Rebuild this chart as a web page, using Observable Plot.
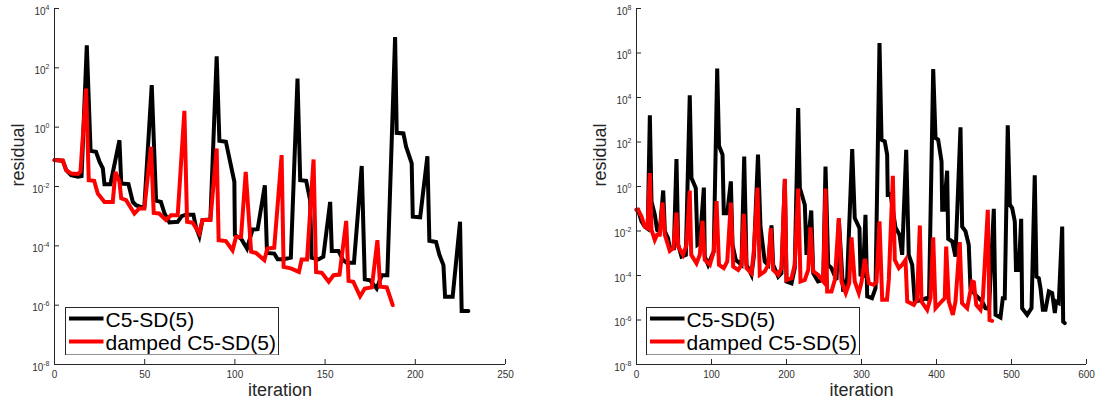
<!DOCTYPE html>
<html><head><meta charset="utf-8">
<script src="https://cdn.jsdelivr.net/npm/d3@7"></script>
<script src="https://cdn.jsdelivr.net/npm/@observablehq/plot@0.6"></script>
<style>
body{margin:0;background:#fff;font-family:"Liberation Sans",Arial,sans-serif;}
#wrap{position:relative;width:1097px;height:401px;overflow:hidden;background:#fff;}
#wrap svg{position:absolute;top:0;}
</style></head><body><div id="wrap"></div>
<script>
// [iteration, log10(residual)]
const leftC5 = [[0,-1.11],[4.6,-1.13],[6.5,-1.45],[9.2,-1.62],[13,-1.67],[15,-1.65],[17.9,2.76],[20,-0.80],[23,-0.83],[25,-1.17],[26.8,-1.39],[27.7,-1.92],[31,-1.92],[36,-0.44],[37,-1.90],[41,-1.92],[43.4,-2.52],[45.2,-2.63],[47.6,-2.69],[49.8,-2.69],[53.9,1.42],[56.3,-2.48],[59,-2.52],[61,-2.91],[63.7,-3.21],[68.3,-3.19],[70.5,-3.0],[72.9,-2.95],[77,-2.95],[78.4,-3.36],[80.3,-3.67],[82,-3.13],[86.4,-3.11],[89.9,2.39],[91.4,-0.46],[95,-0.49],[99.7,-1.84],[100,-3.64],[103.4,-3.75],[106.7,-4.09],[109.8,-3.45],[112.6,-3.44],[116.6,-1.96],[117.8,-4.24],[121.8,-4.26],[123.7,-4.45],[127,-4.45],[131,-4.4],[134.7,1.64],[136.2,-1.79],[139.5,-1.81],[141.7,-2.46],[142.5,-4.4],[146.3,-4.46],[149,-4.37],[152.8,-2.52],[153.7,-4.17],[157.4,-4.17],[160,-4.48],[162,-4.57],[166,-4.57],[170.3,-1.31],[172,-5.13],[174.9,-5.16],[178.6,-5.44],[181.4,-4.99],[184.5,-4.99],[188.8,3.04],[189.7,-0.19],[193.4,-0.21],[194.9,-0.66],[198,-1.22],[198.6,-3.02],[202.7,-3.04],[206.7,-0.98],[207.8,-3.83],[211.5,-3.87],[213.4,-4.31],[215.6,-4.65],[216.5,-5.72],[220.7,-5.72],[224.8,-3.19],[225.7,-6.20],[229.4,-6.20]];
const leftDamped = [[0,-1.11],[4.6,-1.13],[6.5,-1.45],[9.2,-1.56],[13,-1.58],[14.4,-1.5],[17.5,1.30],[19,-1.79],[22,-1.81],[24,-2.24],[27.7,-2.52],[32.3,-2.52],[33.8,-1.51],[36,-1.84],[37,-2.40],[39.7,-2.46],[44.3,-2.91],[47,-2.74],[49.8,-2.74],[53.5,-0.66],[55,-2.89],[58,-2.91],[61.8,-3.13],[64.6,-2.97],[68.3,-2.97],[72,0.55],[73.5,-3.19],[76.6,-3.22],[80.3,-3.58],[82,-3.13],[86.4,-3.13],[89.9,-0.72],[91,-3.81],[95,-3.84],[98.7,-4.15],[100.6,-3.70],[103.4,-3.70],[106,-1.51],[109,-4.20],[111.7,-4.24],[116.3,-4.48],[118,-4.09],[121.8,-4.06],[125.9,-0.94],[127,-4.71],[131,-4.76],[135.5,-4.88],[137,-4.46],[140,-4.46],[143.6,-1.09],[145,-4.88],[148.2,-4.91],[152,-5.21],[154.7,-4.99],[158,-4.97],[161.7,-3.16],[163,-5.18],[165.6,-5.21],[169.4,-5.70],[172,-5.44],[175.9,-5.40],[179,-3.81],[180.5,-5.38],[184.2,-5.40],[187.5,-6.0]];
const rightC5 = [[0,-1.05],[2,-1.05],[6.7,-1.57],[11,-1.8],[15,-1.9],[17.8,3.20],[20,-0.67],[24.4,-1.27],[27.5,-1.95],[31,-2.02],[35.6,-0.18],[37.8,-2.02],[42,-2.32],[44.4,-2.77],[49.8,-2.77],[53.3,1.23],[55.6,-2.62],[60,-3.15],[65.8,-3.07],[71,4.10],[73.3,0.38],[79,-0.07],[81.3,-2.62],[84.4,-2.55],[89.8,-0.05],[91,-3.15],[95.5,-3.52],[103,-2.92],[107.6,5.30],[110,1.83],[114.7,1.43],[116.4,-1.2],[121,-1.2],[125.8,0.23],[128,-2.62],[132.4,-3.3],[140,-3.52],[143.6,1.35],[146.7,-3.52],[153.3,-3.97],[156.4,-3.15],[162,1.43],[165.3,-1.8],[171,-3.37],[175.6,-3.52],[180,-1.75],[182.2,-3.52],[189,-4.05],[193.3,-3.9],[197.8,0.3],[200,-4.27],[206.7,-4.35],[211,-3.67],[215.6,3.53],[217.8,-0.07],[224.4,-0.82],[226.7,-3.07],[233,-1.08],[235.6,-3.9],[242,-4.27],[249,-4.2],[252,0.90],[255.6,-3.52],[260,-3.67],[266.7,-4.2],[269.8,-1.5],[275.6,-4.72],[280.9,-4.12],[287.6,1.68],[291,-1.42],[297.3,-1.87],[298.7,-3.97],[302,-4.0],[305.3,-1.27],[307.6,-4.94],[314,-5.02],[318.7,-4.57],[324,6.45],[326.7,2.10],[331,2.03],[334.2,1.43],[335,-0.37],[338.7,-0.34],[345.3,-1.84],[350.7,-2.17],[354.2,-3.07],[359.6,1.65],[363,-3.07],[367.6,-3.52],[371,-5.17],[380.9,-5.09],[386,-5.02],[390,-5.1],[395.6,5.28],[398.7,2.18],[402.2,2.10],[406.7,1.13],[407.6,-1.05],[409.8,-1.05],[414.2,0.71],[415.6,-2.35],[421,-2.47],[425.3,-3.15],[432,2.66],[434.2,-1.8],[438.7,-2.02],[443,-2.62],[445.3,-4.57],[452,-4.87],[460.9,-5.17],[465.3,-5.47],[470,-5.5],[476.4,-1.0],[478.7,-5.77],[485.3,-5.89],[488.4,-5.02],[491,-5.02],[495,2.75],[497.8,-0.82],[500.9,-0.97],[504.4,-1.57],[506,-3.75],[509.8,-3.75],[512.9,-1.45],[514.2,-5.47],[520.9,-5.77],[526.7,-5.47],[531,0.50],[533.3,-4.05],[536.4,-4.12],[538.7,-4.57],[541.8,-5.54],[545.3,-5.54],[549.8,-4.72],[554.2,-4.79],[557.8,-5.69],[559.6,-5.17],[563,-5.24],[567.6,-1.8],[568.9,-6.07],[571,-6.14]];
const rightDamped = [[0,-1.05],[2,-1.05],[6.7,-1.35],[11,-1.8],[14.7,-1.87],[17.8,0.60],[20,-1.95],[24.4,-2.4],[27.5,-2.17],[31,-2.17],[34.7,-0.72],[37.8,-2.17],[44.4,-2.89],[49,-2.77],[53.3,-1.17],[55.6,-2.7],[62,-3.07],[66.7,-2.62],[71,-0.18],[73,-3.07],[80,-3.45],[84.4,-3.07],[88,-1.54],[91,-3.3],[97.8,-3.52],[103,-2.92],[106.7,-0.66],[110,-3.52],[116.4,-3.67],[121,-3.37],[125.8,-0.72],[129,-3.6],[135.6,-3.75],[140,-3.52],[143,-1.23],[146.7,-3.67],[153.3,-3.9],[156.4,-2.92],[161.3,-0.05],[164.4,-3.97],[171,-3.82],[175.6,-3.52],[179,-1.87],[182.2,-3.75],[189,-3.97],[193.3,-3.67],[197.8,0.35],[200,-4.2],[206.7,-4.12],[211,-3.52],[215.6,-0.09],[218.7,-4.27],[224.4,-4.2],[229,-3.75],[232,-1.84],[235.6,-3.82],[242,-3.97],[249,-4.27],[252,-0.09],[254.2,-4.72],[260,-4.72],[264.4,-4.2],[269.8,-1.42],[273.3,-4.27],[279,-4.79],[283.6,-4.35],[286.7,-2.29],[291,-4.27],[296.4,-4.79],[300,-4.3],[304.4,-3.25],[309.8,-4.35],[316.4,-4.42],[320,-4.3],[324,-1.57],[327.6,-5.09],[334,-5.09],[336.4,-4.2],[341.8,0.48],[344.4,-3.3],[349.8,-3.67],[354.2,-3.52],[358.7,-3.30],[361,-5.17],[369.8,-5.32],[374,-5.09],[377.8,-1.75],[380,-5.17],[387.6,-5.54],[392,-5.02],[395.6,-2.28],[398.7,-5.47],[406.7,-5.17],[411,-5.02],[412.9,-2.70],[416.4,-5.17],[421.8,-5.77],[425.3,-5.17],[431,-2.5],[434,-5.24],[440.9,-5.47],[447.6,-4.27],[449.8,-4.3],[453,-5.32],[458.7,-5.54],[461.8,-5.02],[468.4,-1.05],[470.7,-6.0],[474.2,-6.04]];

const leftXTicks = [0, 50, 100, 150, 200, 250];
const leftYTicks = [1e-8, 1e-6, 1e-4, 1e-2, 1e0, 1e2, 1e4];
const rightXTicks = [0, 100, 200, 300, 400, 500, 600];
const rightYTicks = [1e-8, 1e-6, 1e-4, 1e-2, 1e0, 1e2, 1e4, 1e6, 1e8];
const seriesNames = ["C5-SD(5)", "damped C5-SD(5)"];
const seriesColors = ["#000000", "#ff0000"];
const xLabel = "iteration";
const yLabel = "residual";

const FONT = "'Liberation Sans', Arial, Helvetica, sans-serif";
const axisColor = "#262626";
const wrap = document.getElementById("wrap");

function toRows(pairs) { return pairs.map(([it, e]) => ({iteration: it, residual: 10 ** e})); }

function panel({c5, damped, xDomain, xTicks, yDomain, yTicks, left, width, marginLeft, marginRight}) {
  const svg = Plot.plot({
    width, height: 401, marginLeft, marginRight, marginTop: 8, marginBottom: 37,
    style: {fontFamily: FONT, background: "transparent", overflow: "visible"},
    x: {domain: xDomain, ticks: xTicks, label: null},
    y: {type: "log", domain: yDomain, ticks: yTicks, label: null},
    marks: [
      Plot.line(toRows(c5), {x: "iteration", y: "residual", stroke: seriesColors[0], strokeWidth: 4, strokeLinejoin: "miter", strokeMiterlimit: 4}),
      Plot.line(toRows(damped), {x: "iteration", y: "residual", stroke: seriesColors[1], strokeWidth: 4, strokeLinejoin: "miter", strokeMiterlimit: 4}),
      Plot.ruleX([xDomain[0]], {stroke: axisColor, strokeWidth: 1}),
      Plot.ruleY([yDomain[0]], {stroke: axisColor, strokeWidth: 1}),
      Plot.axisX(xTicks, {tickSize: -5, fill: "none", stroke: axisColor, label: null}),
      Plot.axisX(xTicks, {tickSize: 0, tickPadding: 6, fontSize: 10, fill: "#333", label: null}),
      Plot.axisY(yTicks, {tickSize: -5, fill: "none", stroke: axisColor, label: null}),
      Plot.axisY(yTicks, {tickSize: 0, tickPadding: 5, fontSize: 10, fill: "#333", label: null,
        tickFormat: d => "10^" + Math.round(Math.log10(d))}),
      Plot.text([xLabel], {text: d => d, frameAnchor: "bottom", dy: 31, lineAnchor: "bottom", fontSize: 18, fill: "#262626"}),
      Plot.text([yLabel], {text: d => d, frameAnchor: "left", dx: -31, rotate: -90, lineAnchor: "bottom", fontSize: 18, fill: "#262626"})
    ]
  });
  svg.style.left = left + "px";
  // superscript exponents on the y tick labels
  svg.querySelectorAll('g[aria-label="y-axis tick label"] text').forEach(t => {
    const m = /^10\^(-?\d+)$/.exec(t.textContent.trim());
    if (!m) return;
    t.textContent = "";
    t.setAttribute("y", "6");
    const base = document.createElementNS("http://www.w3.org/2000/svg", "tspan");
    base.textContent = "10";
    const exp = document.createElementNS("http://www.w3.org/2000/svg", "tspan");
    exp.textContent = m[1];
    exp.setAttribute("dy", "-5");
    exp.setAttribute("font-size", "7");
    t.appendChild(base); t.appendChild(exp);
  });
  wrap.appendChild(svg);
}

function legend(left, top, width, height) {
  const svg = d3.create("svg").attr("width", width + 1).attr("height", height + 1)
    .style("left", left + "px").style("top", top + "px").style("font-family", FONT);
  svg.append("rect").attr("x", 0.5).attr("y", 0.5).attr("width", width).attr("height", height)
    .attr("fill", "white").attr("stroke", axisColor).attr("stroke-width", 1);
  const lineY = [11.5, 34.5], textY = [19.8, 42.5];
  seriesNames.forEach((name, i) => {
    svg.append("line").attr("x1", 4).attr("x2", 38.5).attr("y1", lineY[i]).attr("y2", lineY[i])
      .attr("stroke", seriesColors[i]).attr("stroke-width", 4);
    svg.append("text").attr("x", 40.5).attr("y", textY[i]).attr("font-size", 21).attr("fill", "#000").text(name);
  });
  wrap.appendChild(svg.node());
}

panel({c5: leftC5, damped: leftDamped, xDomain: [0, 250], xTicks: leftXTicks, yDomain: [1e-8, 1e4], yTicks: leftYTicks,
  left: 0, width: 560, marginLeft: 54, marginRight: 55});
panel({c5: rightC5, damped: rightDamped, xDomain: [0, 600], xTicks: rightXTicks, yDomain: [1e-8, 1e8], yTicks: rightYTicks,
  left: 560, width: 537, marginLeft: 76, marginRight: 11});
legend(64.5, 306.5, 213, 47.5);
legend(646, 306.5, 213, 47.5);
</script></body></html>
